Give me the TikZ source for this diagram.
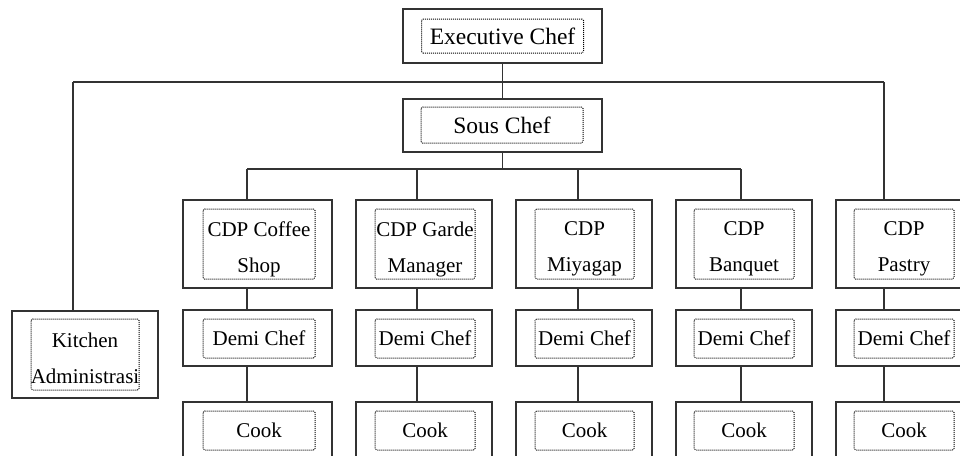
\documentclass[tikz,border=0pt]{standalone}
\usepackage{fontspec}
\setmainfont{Liberation Serif}
\usetikzlibrary{positioning}

\begin{document}
\begin{tikzpicture}[
    x=1pt, y=-1pt,
    font=\fontsize{21}{36}\selectfont,
    outerbox/.style={draw=black!80, line width=1.4pt, inner sep=0pt},
    dotbox/.style={draw=black, line width=1pt, dash pattern=on 1pt off 1pt, rounded corners=1.5pt, inner sep=0pt, align=center},
    txt/.style={inner sep=0pt, align=center},
    bigtxt/.style={font=\fontsize{23.5}{28}\selectfont},
    link/.style={draw=black!80, line width=1.4pt}
  ]
  \useasboundingbox (0,0) rectangle (960,455);
  \clip (0,0) rectangle (960,455);
  \node[outerbox, minimum width=199, minimum height=54] (exec) at (502.5,36) {};
  \node[dotbox, bigtxt, minimum width=162, minimum height=34] (in-exec) at (exec) {Executive Chef};
  \node[outerbox, minimum width=199, minimum height=53] (sous) at (502.5,125.5) {};
  \node[dotbox, bigtxt, minimum width=162, minimum height=36] (in-sous) at (502,125) {Sous Chef};
  \node[outerbox, minimum width=146, minimum height=87] (kitchen) at (85,354.5) {};
  \node[dotbox, minimum width=108, minimum height=71] (in-kitchen) at (kitchen) {};
  \node[txt] (txt-kitchen) at (85,358.5) {Kitchen\\Administrasi};
  % one column per station
  \foreach \id/\cx/\ix/\iw/\ow/\lx/\ly/\lbl in {
      cs/257.5/259/112/149/247/169/{CDP Coffee\\Shop},
      gm/424/425/100/136/417/169/{CDP Garde\\Manager},
      mi/584/584.5/99/136/578/169/{CDP\\Miyagap},
      bq/744/744/100/136/741/169/{CDP\\Banquet},
      pa/904/904/100/136/884/82/{CDP\\Pastry}} {
    \node[outerbox, minimum width=\ow, minimum height=88] (cdp\id) at (\cx,244) {};
    \node[dotbox, minimum width=\iw, minimum height=70] (in-cdp\id) at (\ix,244) {};
    \node[txt] (txt-cdp\id) at (\ix,249) {\lbl};
    \node[outerbox, minimum width=\ow, minimum height=56] (demi\id) at (\cx,338) {};
    \node[dotbox, minimum width=\iw, minimum height=39] (in-demi\id) at (\ix,338.5) {Demi Chef};
    \node[outerbox, minimum width=\ow, minimum height=56] (cook\id) at (\cx,430) {};
    \node[dotbox, minimum width=\iw, minimum height=39] (in-cook\id) at (\ix,430.5) {Cook};
    \coordinate (drop\id) at (\lx,\ly);
    \draw[link] (drop\id) -- (drop\id |- cdp\id.north);
    \draw[link] (drop\id |- cdp\id.south) -- (drop\id |- demi\id.north);
    \draw[link] (drop\id |- demi\id.south) -- (drop\id |- cook\id.north);
  }
  \coordinate (topL) at (73,82);
  \draw[link] (exec) -- (sous);
  \draw[link] (topL) -- (droppa);
  \draw[link] (topL) -- (topL |- kitchen.north);
  \draw[link] (sous.south) -- (sous.south |- dropcs);
  \draw[link] (dropcs) -- (dropbq);
\end{tikzpicture}
\end{document}
